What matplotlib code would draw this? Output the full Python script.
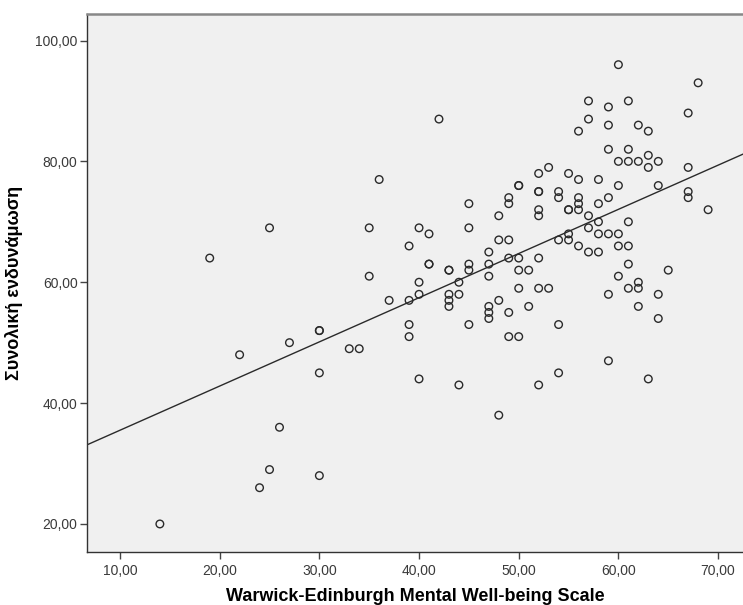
import numpy as np
import matplotlib
matplotlib.use("Agg")
import matplotlib.pyplot as plt
from matplotlib.ticker import FuncFormatter

# Warwick-Edinburgh score (x) and total empowerment score (y)
wemwbs = [14, 19, 22, 24, 25, 25, 26, 27, 30, 30, 30, 30, 33, 34, 35, 35, 36, 37,
          39, 39, 39, 39, 40, 40, 40, 40, 41, 41, 41, 42, 43, 43, 43, 43, 43,
          44, 44, 44, 45, 45, 45, 45, 45, 47, 47, 47, 47, 47, 47, 48, 48, 48, 48,
          49, 49, 49, 49, 49, 49, 50, 50, 50, 50, 50, 50, 51, 51,
          52, 52, 52, 52, 52, 52, 52, 52, 53, 53, 54, 54, 54, 54, 54,
          55, 55, 55, 55, 55, 56, 56, 56, 56, 56, 56, 57, 57, 57, 57, 57,
          58, 58, 58, 58, 58, 59, 59, 59, 59, 59, 59, 59,
          60, 60, 60, 60, 60, 60, 61, 61, 61, 61, 61, 61, 61,
          62, 62, 62, 62, 62, 63, 63, 63, 63, 64, 64, 64, 64, 65,
          67, 67, 67, 67, 68, 69]
empowerment = [20, 64, 48, 26, 69, 29, 36, 50, 52, 52, 45, 28, 49, 49, 69, 61, 77, 57,
               66, 57, 53, 51, 69, 60, 58, 44, 68, 63, 63, 87, 62, 62, 58, 57, 56,
               60, 58, 43, 73, 69, 63, 62, 53, 65, 63, 61, 56, 55, 54, 71, 67, 57, 38,
               74, 73, 67, 64, 55, 51, 76, 76, 64, 62, 59, 51, 62, 56,
               78, 75, 75, 72, 71, 64, 59, 43, 79, 59, 75, 74, 67, 53, 45,
               78, 72, 72, 68, 67, 85, 77, 74, 73, 72, 66, 90, 87, 71, 69, 65,
               77, 73, 70, 68, 65, 89, 86, 82, 74, 68, 58, 47,
               96, 80, 76, 68, 66, 61, 90, 82, 80, 70, 66, 63, 59,
               86, 80, 60, 59, 56, 85, 81, 79, 44, 80, 76, 58, 54, 62,
               88, 79, 75, 74, 93, 72]

# fit line as drawn in the chart
intercept = 28.2
slope = 0.731

x_ticks = [10, 20, 30, 40, 50, 60, 70]
y_ticks = [20, 40, 60, 80, 100]

plt.rcParams['font.family'] = ['Liberation Sans', 'DejaVu Sans']

fig = plt.figure(figsize=(7.43, 6.05), dpi=100)
ax = fig.add_axes([0.1175, 0.088, 0.8825, 0.889])
ax.set_facecolor('#f0f0f0')

ax.scatter(wemwbs, empowerment, s=30, facecolors='none', edgecolors='#2a2a2a',
           linewidths=1.0, zorder=3)
ax.axline((0, intercept), slope=slope, color='#2a2a2a', linewidth=1.0, zorder=2)

ax.set_xlim(6.72, 72.5)
ax.set_ylim(15.4, 104.4)
ax.set_xticks(x_ticks)
ax.set_yticks(y_ticks)
fmt = FuncFormatter(lambda v, p: f"{v:.2f}".replace('.', ','))
ax.xaxis.set_major_formatter(fmt)
ax.yaxis.set_major_formatter(fmt)
ax.tick_params(axis='both', length=5, width=1, color='#444444',
               labelsize=10, labelcolor='#3a3a3a')
ax.tick_params(axis='x', pad=4)
ax.tick_params(axis='y', pad=2)

for side in ['left', 'bottom']:
    ax.spines[side].set_color('#333333')
    ax.spines[side].set_linewidth(1.0)
ax.spines['top'].set_color('#888888')
ax.spines['top'].set_linewidth(1.8)
ax.spines['right'].set_visible(False)

ax.set_xlabel('Warwick-Edinburgh Mental Well-being Scale', fontsize=13,
              fontweight='bold', labelpad=7)
ax.set_ylabel('Συνολική ενδυνάμωση', fontsize=13, fontweight='bold', labelpad=9)

fig.savefig('out.png', dpi=100)
